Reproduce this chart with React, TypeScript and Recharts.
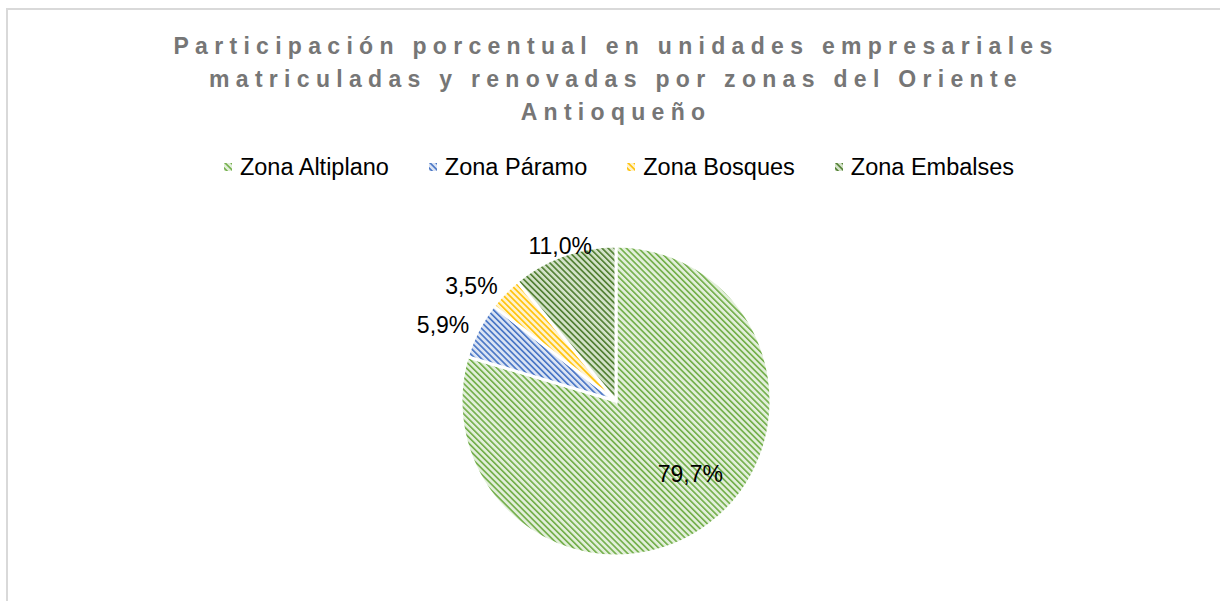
import { PieChart, Pie, Cell, Legend } from 'recharts';

const zonas = ['Zona Altiplano', 'Zona Páramo', 'Zona Bosques', 'Zona Embalses'];
const participacion = [79.7, 5.9, 3.5, 11.0];

// fondo claro + trama diagonal de cada zona
const fondos = ['#e2efda', '#dae3f3', '#fff2cc', '#d3e2c8'];
const trazos = ['#70ad47', '#4472c4', '#ffc000', '#4d7c2e'];

const data = zonas.map((name, i) => ({ name, value: participacion[i] }));

const FONT = '"Liberation Sans", Arial, sans-serif';
const RADIAN = Math.PI / 180;

const fmt = (v: number) => v.toFixed(1).replace('.', ',') + '%';

function renderLabel(props: any) {
  const { cx, cy, midAngle, outerRadius, index, value } = props;
  // la porción grande lleva la etiqueta dentro, algo girada como en Excel
  if (index === 0) {
    const a = (-midAngle - 9) * RADIAN;
    const r = outerRadius * 0.67;
    return (
      <text x={cx + r * Math.cos(a)} y={cy + r * Math.sin(a)} textAnchor="middle" dominantBaseline="central"
        fill="#000" fontSize={23} fontFamily={FONT}>
        {fmt(value)}
      </text>
    );
  }
  const cos = Math.cos(-midAngle * RADIAN);
  const sin = Math.sin(-midAngle * RADIAN);
  const r = outerRadius + 10;
  const anchor = cos < -0.5 ? 'end' : cos > 0.5 ? 'start' : 'middle';
  return (
    <text x={cx + r * cos} y={cy + r * sin} textAnchor={anchor} dominantBaseline="central"
      fill="#000" fontSize={23} fontFamily={FONT}>
      {fmt(value)}
    </text>
  );
}

function LegendContent() {
  return (
    <div style={{ display: 'flex', justifyContent: 'center', gap: 40, fontFamily: FONT, fontSize: 23.5, lineHeight: '26px', color: '#000', paddingLeft: 18 }}>
      {zonas.map((z, i) => (
        <div key={z} style={{ display: 'flex', alignItems: 'center' }}>
          <svg width={8} height={8} style={{ marginRight: 8 }}>
            <rect width={8} height={8} fill={`url(#trama-${i})`} />
          </svg>
          <span>{z}</span>
        </div>
      ))}
    </div>
  );
}

export default function App() {
  return (
    <div style={{ position: 'absolute', left: 0, top: 0, width: 1220, height: 601, background: '#fff', overflow: 'hidden' }}>
      {/* marco del gráfico */}
      <div style={{ position: 'absolute', left: 6, top: 8, width: 1230, height: 620, borderTop: '2px solid #d9d9d9', borderLeft: '2px solid #d9d9d9' }} />
      {/* título */}
      <div style={{ position: 'absolute', left: 0, top: 30, width: 1232, textAlign: 'center', fontFamily: FONT, fontWeight: 'bold', fontSize: 23, lineHeight: '33px', letterSpacing: 6.3, color: '#767676' }}>
        <div>Participación porcentual en unidades empresariales</div>
        <div>matriculadas y renovadas por zonas del Oriente</div>
        <div>Antioqueño</div>
      </div>
      <PieChart width={1220} height={601} margin={{ top: 0, right: 0, bottom: 0, left: 0 }} style={{ position: 'absolute', left: 0, top: 0 }}>
        <defs>
          {fondos.map((bg, i) => (
            <pattern key={i} id={`trama-${i}`} patternUnits="userSpaceOnUse" width={4.3} height={4.3} patternTransform="rotate(-45)">
              <rect width={4.3} height={4.3} fill={bg} />
              <rect width={1.6} height={4.3} fill={trazos[i]} />
            </pattern>
          ))}
        </defs>
        <Legend verticalAlign="middle" content={<LegendContent />} wrapperStyle={{ top: 154, left: 0, width: 1220 }} />
        <Pie
          data={data}
          dataKey="value"
          nameKey="name"
          cx={616}
          cy={401}
          outerRadius={155}
          startAngle={90}
          endAngle={-270}
          stroke="#fff"
          strokeWidth={3}
          label={renderLabel}
          labelLine={false}
          isAnimationActive={false}
        >
          {data.map((d, i) => (
            <Cell key={d.name} fill={`url(#trama-${i})`} />
          ))}
        </Pie>
      </PieChart>
    </div>
  );
}
